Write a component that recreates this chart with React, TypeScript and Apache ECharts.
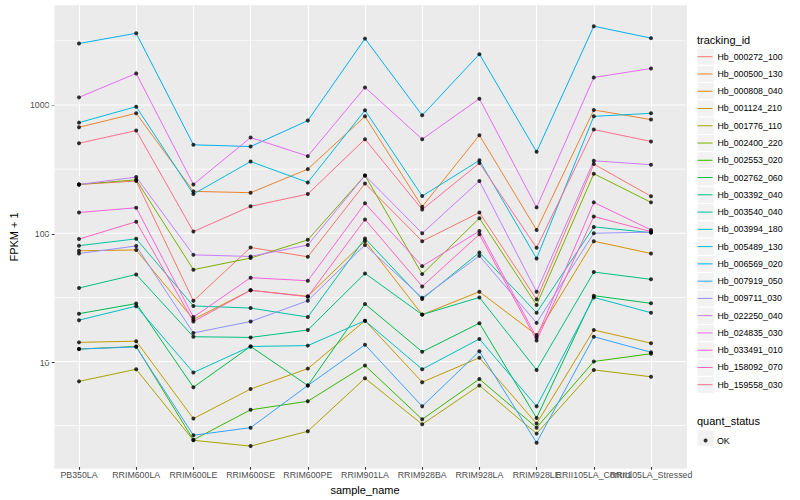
import React, { useEffect, useRef } from 'react';
import * as echarts from 'echarts';

const categories = [
  'PB350LA', 'RRIM600LA', 'RRIM600LE', 'RRIM600SE', 'RRIM600PE', 'RRIM901LA',
  'RRIM928BA', 'RRIM928LA', 'RRIM928LE', 'RRII105LA_Control', 'RRII105LA_Stressed',
];

const trackingIds = [
  'Hb_000272_100', 'Hb_000500_130', 'Hb_000808_040', 'Hb_001124_210', 'Hb_001776_110',
  'Hb_002400_220', 'Hb_002553_020', 'Hb_002762_060', 'Hb_003392_040', 'Hb_003540_040',
  'Hb_003994_180', 'Hb_005489_130', 'Hb_006569_020', 'Hb_007919_050', 'Hb_009711_030',
  'Hb_022250_040', 'Hb_024835_030', 'Hb_033491_010', 'Hb_158092_070', 'Hb_159558_030',
];

const palette = [
  '#F8766D', '#EA8331', '#D89000', '#C09B00', '#A3A500', '#7CAE00', '#39B600', '#00BB4E',
  '#00BF7D', '#00C1A3', '#00BFC4', '#00BAE0', '#00B0F6', '#35A2FF', '#9590FF', '#C77CFF',
  '#E76BF3', '#FA62DB', '#FF62BC', '#FF6C91',
];

// FPKM + 1 per sample, in category order
const Hb_000272_100 = [240, 255, 29.7, 77.4, 65.5, 244, 86.7, 145, 30.5, 346, 194];
const Hb_000500_130 = [670, 861, 212, 207, 316, 815, 161, 581, 106, 914, 769];
const Hb_000808_040 = [73, 74, 21.3, 35.9, 32.2, 87, 23.2, 35, 16.1, 86.7, 69.5];
const Hb_001124_210 = [14.1, 14.4, 3.59, 6.1, 8.8, 20.8, 6.9, 10.7, 3.28, 17.6, 13.9];
const Hb_001776_110 = [7, 8.7, 2.43, 2.19, 2.86, 7.4, 3.24, 6.5, 2.74, 8.6, 7.6];
const Hb_002400_220 = [240, 261, 52, 64, 88.8, 282, 48, 131, 27.6, 291, 174];
const Hb_002553_020 = [12.5, 13.1, 2.45, 4.2, 4.9, 9.3, 3.54, 7.3, 3.05, 10, 11.5];
const Hb_002762_060 = [23.6, 28.3, 6.3, 13.1, 6.5, 28.1, 11.9, 19.9, 3.63, 32.6, 28.4];
const Hb_003392_040 = [37.4, 47.7, 15.6, 15.4, 17.6, 48.6, 23.2, 31.6, 8.6, 49.8, 43.7];
const Hb_003540_040 = [80, 90.4, 27.1, 26.1, 22.2, 91, 30.7, 70.8, 24, 112, 101];
const Hb_003994_180 = [21, 27, 8.2, 13.1, 13.3, 20.8, 8.7, 15, 4.47, 31.6, 24];
const Hb_005489_130 = [728, 970, 202, 362, 249, 908, 195, 370, 63.6, 815, 861];
const Hb_006569_020 = [3013, 3622, 489, 474, 755, 3289, 830, 2489, 431, 4111, 3318];
const Hb_007919_050 = [12.5, 13, 2.66, 3.05, 6.5, 13.5, 4.47, 12, 2.33, 15.6, 11.8];
const Hb_009711_030 = [69.5, 79.5, 16.7, 20.5, 29.8, 81, 31.4, 66.6, 20, 100, 102];
const Hb_022250_040 = [240, 274, 67.8, 65.9, 81, 282, 100, 255, 35, 367, 342];
const Hb_024835_030 = [1146, 1762, 240, 557, 399, 1370, 541, 1119, 159, 1638, 1924];
const Hb_033491_010 = [145, 158, 22.2, 45, 42.6, 171, 55.4, 104, 15.4, 174, 106];
const Hb_158092_070 = [90, 123, 20.5, 35.9, 32, 128, 38.5, 98, 14.6, 135, 103];
const Hb_159558_030 = [503, 631, 103, 162, 202, 541, 153, 352, 77, 643, 519];

const seriesValues = [
  Hb_000272_100, Hb_000500_130, Hb_000808_040, Hb_001124_210, Hb_001776_110,
  Hb_002400_220, Hb_002553_020, Hb_002762_060, Hb_003392_040, Hb_003540_040,
  Hb_003994_180, Hb_005489_130, Hb_006569_020, Hb_007919_050, Hb_009711_030,
  Hb_022250_040, Hb_024835_030, Hb_033491_010, Hb_158092_070, Hb_159558_030,
];

const yMajorBreaks = [10, 100, 1000];
const yMinorBreaks = [3.16228, 31.6228, 316.228, 3162.28];
const quantStatus = ['OK'];

const FONT = '"Liberation Sans", Arial, sans-serif';
const H = 500;

export default function App() {
  const ref = useRef<HTMLDivElement>(null);

  useEffect(() => {
    if (!ref.current) return;
    const chart = echarts.init(ref.current, undefined, { renderer: 'svg' });

    const all = seriesValues.flat();
    const lo = Math.log10(Math.min(...all));
    const hi = Math.log10(Math.max(...all));
    const pad = (hi - lo) * 0.05;
    const yMin = Math.pow(10, lo - pad);
    const yMax = Math.pow(10, hi + pad);

    const panelTop = 5.2;
    const panelBottom = 468.7;

    const lineSeries = trackingIds.map((id, i) => ({
      type: 'line',
      name: id,
      xAxisIndex: 1,
      yAxisIndex: 1,
      data: seriesValues[i],
      symbol: 'none',
      showSymbol: false,
      lineStyle: { width: 1, color: palette[i] },
      itemStyle: { color: palette[i] },
      emphasis: { disabled: true },
      z: 2,
    }));

    const points: any[] = [];
    seriesValues.forEach((vals) => vals.forEach((v, j) => points.push([j, v])));

    // horizontal panel grid lines as thin filled bands, spanning the discrete
    // x range expanded by 0.6 of a category on each side (as the panel is)
    const bandData = [
      ...yMinorBreaks.map((v) => [0, v, 0.6]),
      ...yMajorBreaks.map((v) => [0, v, 1.07]),
    ];
    const gridBands = {
      type: 'custom', name: '__hgrid', xAxisIndex: 1, yAxisIndex: 1,
      data: bandData, silent: true, z: 1, clip: false,
      encode: { x: 0, y: 1 },
      renderItem: (params: any, api: any) => {
        const p0 = api.coord([0, api.value(1)]);
        const p1 = api.coord([1, api.value(1)]);
        const step = p1[0] - p0[0];
        const cs = params.coordSys;
        const th = api.value(2);
        return {
          type: 'rect',
          shape: { x: cs.x - 0.6 * step, y: p0[1] - th / 2, width: cs.width + 1.2 * step, height: th },
          style: { fill: '#FFFFFF' },
          silent: true,
        };
      },
    };

    const keyRects: any[] = trackingIds.map((_, i) => ({
      type: 'rect',
      shape: { x: 697, y: 48 + i * 17.28, width: 17.28, height: 17.28 },
      style: { fill: '#F2F2F2', stroke: '#FFFFFF', lineWidth: 1 },
      z: 1,
      silent: true,
    }));
    keyRects.push({
      type: 'rect',
      shape: { x: 697, y: 429.4, width: 17.28, height: 17.28 },
      style: { fill: '#F2F2F2', stroke: '#FFFFFF', lineWidth: 1 },
      z: 1,
      silent: true,
    });

    const option: any = {
      animation: false,
      backgroundColor: '#FFFFFF',
      textStyle: { fontFamily: FONT },
      title: [
        { text: 'tracking_id', left: 697, top: 34, padding: 0,
          textStyle: { fontSize: 11, fontWeight: 'normal', color: '#000', fontFamily: FONT } },
        { text: 'quant_status', left: 697, top: 415, padding: 0,
          textStyle: { fontSize: 11, fontWeight: 'normal', color: '#000', fontFamily: FONT } },
      ],
      graphic: keyRects,
      grid: [
        { left: 45, right: 113, top: panelTop, bottom: H - panelBottom, show: true, backgroundColor: '#EBEBEB', borderWidth: 0, z: -1 },
        { left: 79, right: 149, top: panelTop, bottom: H - panelBottom, show: false },
      ],
      xAxis: [
        {
          type: 'value', gridIndex: 0, min: 0, max: 1, show: true,
          axisLine: { show: false }, axisTick: { show: false }, axisLabel: { show: false },
          splitLine: { show: false },
        },
        {
          type: 'category', gridIndex: 1, data: categories, boundaryGap: false,
          axisLine: { show: false },
          axisTick: { show: true, length: 2.7, lineStyle: { color: '#333333', width: 1.07 } },
          axisLabel: { interval: 0, hideOverlap: false, fontSize: 8.8, color: '#4D4D4D', margin: 3, fontFamily: FONT },
          splitLine: { show: true, lineStyle: { color: '#FFFFFF', width: 1.07 } },
          name: 'sample_name', nameLocation: 'middle', nameGap: 13,
          nameTextStyle: { fontSize: 11, color: '#000', fontFamily: FONT },
        },
      ],
      yAxis: [
        {
          type: 'log', gridIndex: 0, logBase: 10, min: yMin, max: yMax,
          axisLine: { show: false },
          axisTick: { show: true, length: 2.7, customValues: yMajorBreaks, lineStyle: { color: '#333333', width: 1.07 } },
          axisLabel: {
            customValues: yMajorBreaks, fontSize: 8.8, color: '#4D4D4D', margin: 5, fontFamily: FONT,
            formatter: (v: number) => String(Math.round(v)),
          },
          splitLine: { show: false },
          name: 'FPKM + 1', nameLocation: 'middle', nameGap: 27, nameRotate: 90,
          nameTextStyle: { fontSize: 11, color: '#000', fontFamily: FONT },
        },
        { type: 'log', gridIndex: 1, logBase: 10, min: yMin, max: yMax, show: false },
      ],
      legend: [
        {
          data: trackingIds, orient: 'vertical', left: 697, top: 49.8, padding: 0,
          itemWidth: 15, itemHeight: 17.28, itemGap: 3.44,
          selectedMode: false,
          itemStyle: { opacity: 0 },
          lineStyle: { width: 1 },
          textStyle: { fontSize: 8.8, color: '#000', fontFamily: FONT },
        },
        {
          data: quantStatus, orient: 'vertical', left: 703.6, top: 436, padding: 0,
          itemWidth: 4, itemHeight: 4, itemGap: 0, icon: 'circle',
          selectedMode: false,
          textStyle: { fontSize: 8.8, color: '#000', fontFamily: FONT, padding: [0, 0, 0, 4.4] },
        },
      ],
      series: [
        gridBands,
        ...lineSeries,
        {
          type: 'scatter', name: 'OK', xAxisIndex: 1, yAxisIndex: 1,
          data: points, symbol: 'circle', symbolSize: 4,
          itemStyle: { color: '#000000' }, emphasis: { disabled: true }, z: 3,
        },
      ],
    };

    chart.setOption(option);
    return () => chart.dispose();
  }, []);

  return (
    <div
      ref={ref}
      style={{ position: 'absolute', left: 0, top: 0, width: 800, height: 500 }}
    />
  );
}
